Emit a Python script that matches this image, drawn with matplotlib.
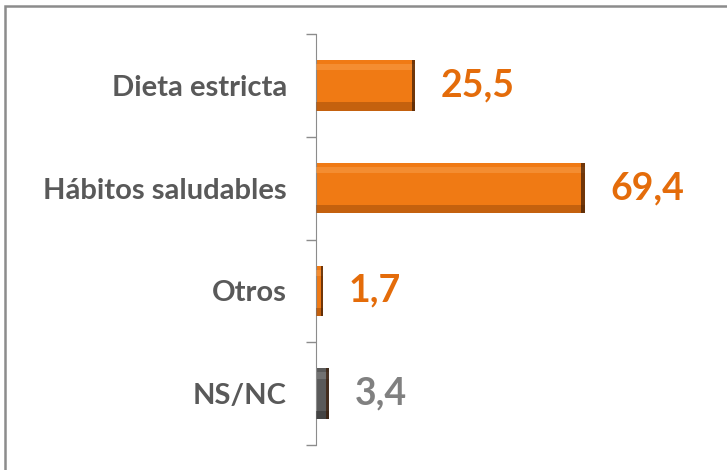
import numpy as np
import matplotlib.pyplot as plt
from matplotlib.patches import Rectangle

# Data
categories = ['Dieta estricta', 'Hábitos saludables', 'Otros', 'NS/NC']
values = [25.5, 69.4, 1.7, 3.4]
value_labels = ['25,5', '69,4', '1,7', '3,4']
bar_colors = ['#F07A14', '#F07A14', '#F07A14', '#5A5A5A']
text_colors = ['#E46C0A', '#E46C0A', '#E46C0A', '#808080']

plt.rcParams['font.family'] = ['Lato', 'DejaVu Sans']

fig = plt.figure(figsize=(7.27, 4.70), dpi=100)

# outer frame (right and bottom edges fall outside the picture)
fig.patches.append(Rectangle((5 / 727, -0.05), 1.1, (470 - 6) / 470 + 0.05,
                             transform=fig.transFigure, fill=False,
                             edgecolor='#8C8C8C', linewidth=1.8))

ax = fig.add_axes([316 / 727, 25 / 470, 387 / 727, 411 / 470])

y = np.arange(len(categories))
h = 0.49
bars = ax.barh(y, values, height=h, color=bar_colors, edgecolor='none', zorder=2)

# simple bevel: light top band, dark bottom band, dark right edge
for b, c in zip(bars, bar_colors):
    x0, y0 = b.get_x(), b.get_y()
    w, hh = b.get_width(), b.get_height()
    light = '#F9A04F' if c != '#5A5A5A' else '#8A8A8A'
    dark = '#9A4A0A' if c != '#5A5A5A' else '#303030'
    ax.add_patch(Rectangle((x0, y0 + hh * 0.08), w, hh * 0.12, color=light,
                           alpha=0.5, lw=0, zorder=3))
    ax.add_patch(Rectangle((x0, y0 + hh * 0.84), w, hh * 0.16, color=dark,
                           alpha=0.5, lw=0, zorder=3))
    ew = min(w * 0.3, 0.8)
    ax.add_patch(Rectangle((x0 + w - ew, y0), ew, hh, color='#3A1A05',
                           alpha=0.7, lw=0, zorder=4))

for yi, v, lab, tc in zip(y, values, value_labels, text_colors):
    ax.annotate(lab, (v, yi), xytext=(26, 0), textcoords='offset pixels',
                ha='left', va='center', fontsize=27, fontweight='bold',
                color=tc)

ax.set_xlim(0, 100)
ax.set_ylim(len(categories) - 0.5, -0.5)

ax.set_yticks(y)
ax.set_yticklabels(categories, fontsize=21, fontweight='bold', color='#595959')
ax.set_yticks(np.arange(-0.5, len(categories)), minor=True)
ax.tick_params(axis='y', which='major', length=0, pad=21)
ax.tick_params(axis='y', which='minor', length=7, color='#8C8C8C', width=1)

ax.set_xticks([])
for s in ['top', 'right', 'bottom']:
    ax.spines[s].set_visible(False)
ax.spines['left'].set_color('#8C8C8C')

fig.savefig('out.png', dpi=100)
